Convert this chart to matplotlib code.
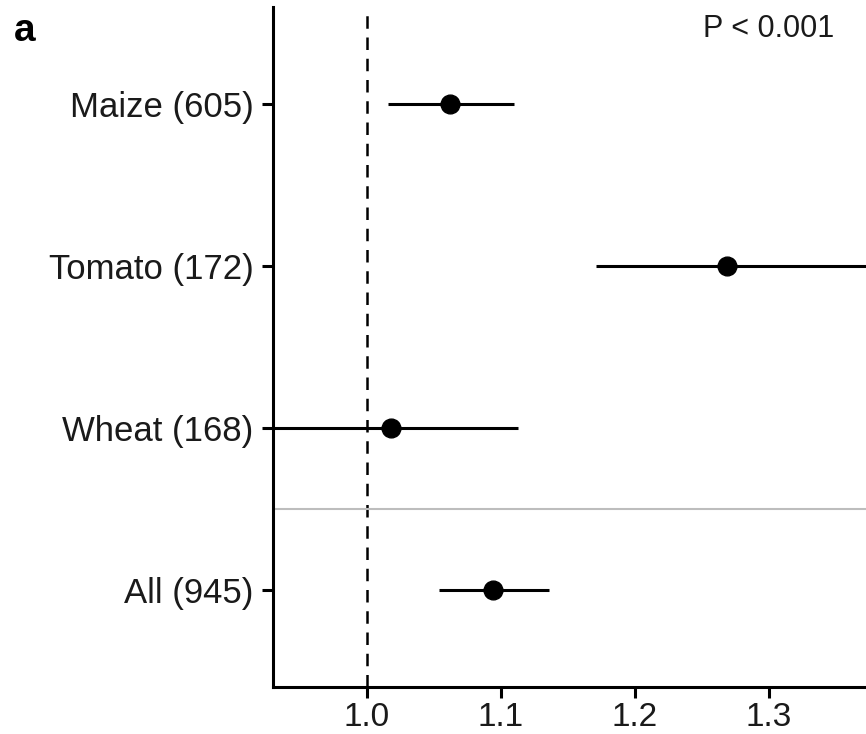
import matplotlib
matplotlib.use("Agg")
import matplotlib.pyplot as plt
import numpy as np

plt.rcParams["font.family"] = ["Liberation Sans", "DejaVu Sans"]

crops = ["Maize (605)", "Tomato (172)", "Wheat (168)", "All (945)"]
effect = [1.062, 1.269, 1.018, 1.094]
ci_low = [1.016, 1.171, 0.925, 1.054]
ci_high = [1.110, 1.380, 1.113, 1.136]
y_pos = [4, 3, 2, 1]

fig = plt.figure(figsize=(8.66, 7.34), dpi=100)
ax = fig.add_axes([273 / 866, 47 / 734, 593 / 866, 680 / 734])

# reference line at 1 and separator above the pooled estimate
ax.axvline(1.0, color="black", lw=1.8, dashes=(5, 3.5), zorder=1)
ax.axhline(1.5, color="#bdbdbd", lw=1.5, zorder=1)

ax.hlines(y_pos, ci_low, ci_high, color="black", lw=2.2, zorder=2)
ax.plot(effect, y_pos, "o", color="black", ms=13.5, zorder=3)

ax.set_xlim(0.930, 1.3724)
ax.set_ylim(0.4, 4.6)
ax.set_xticks([1.0, 1.1, 1.2, 1.3])
ax.set_xticklabels(["1.0", "1.1", "1.2", "1.3"])
ax.set_yticks(y_pos)
ax.set_yticklabels(crops)

for side in ["top", "right"]:
    ax.spines[side].set_visible(False)
for side in ["left", "bottom"]:
    ax.spines[side].set_linewidth(2.2)

ax.tick_params(axis="both", length=8, width=2.2, labelsize=25, pad=6,
               colors="black", labelcolor="#1a1a1a")
ax.tick_params(axis="x", labelsize=24, pad=3)

ax.text(0.836, 0.968, "P < 0.001", transform=ax.transAxes, fontsize=22,
        ha="center", va="center", color="#1a1a1a")
fig.text(0.016, 1 - 31 / 734, "a", fontsize=28, fontweight="bold",
         ha="left", va="center")

plt.savefig("out.png", dpi=100)
